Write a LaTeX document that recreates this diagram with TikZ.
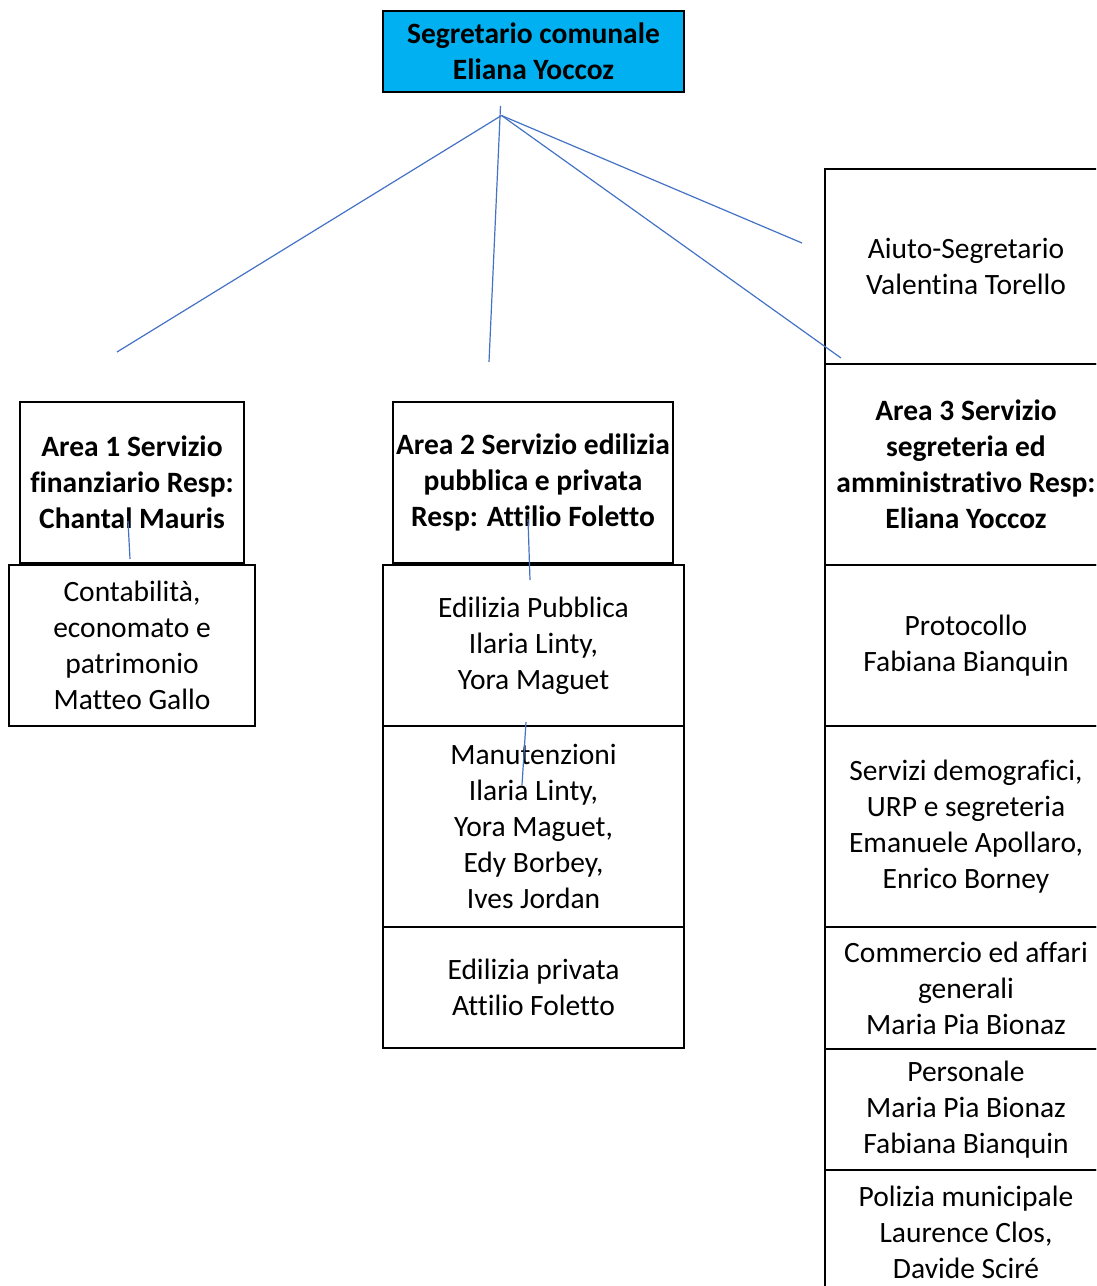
\documentclass[tikz,border=0pt]{standalone}
\usepackage{fontspec}
\setmainfont[Ligatures={NoCommon}]{Carlito}
\definecolor{topcyan}{HTML}{00B0F0}
\definecolor{linkblue}{HTML}{4472C4}
\begin{document}
\begin{tikzpicture}[x=1pt,y=-1pt,
  orgbox/.style={draw=black, line width=2pt, inner sep=0pt, align=center,
    font=\fontsize{29.5pt}{36pt}\selectfont},
  headbox/.style={orgbox, font=\fontsize{29.5pt}{36pt}\selectfont\bfseries},
  link/.style={draw=linkblue, line width=1.2pt}]
\clip (0,0) rectangle (1096,1286);
\fill[white] (0,0) rectangle (1096,1286);

% top
\node[headbox, fill=topcyan, minimum width=301pt, minimum height=81pt] (top) at (533.5,51.5) {Segretario comunale\\Eliana Yoccoz};

% area 1
\node[headbox, minimum width=224pt, minimum height=161pt] (a1) at (132,482.5) {Area 1 Servizio\\finanziario Resp:\\Chantal Mauris};
\node[orgbox, minimum width=246pt, minimum height=161pt] (c1) at (132,645.5) {Contabilità,\\economato e\\patrimonio\\Matteo Gallo};

% area 2
\node[headbox, minimum width=280pt, minimum height=161pt] (a2) at (533,482.5) {Area 2 Servizio edilizia\\pubblica e privata\\Resp: Attilio Foletto};
\node[orgbox, minimum width=301pt, minimum height=161pt] (e1) at (533.5,645.5) {Edilizia Pubblica\\Ilaria Linty,\\Yora Maguet};
\node[orgbox, minimum width=301pt, minimum height=201pt] (e2) at (533.5,826.5) {Manutenzioni\\Ilaria Linty,\\Yora Maguet,\\Edy Borbey,\\Ives Jordan};
\node[orgbox, minimum width=301pt, minimum height=121pt] (e3) at (533.5,987.5) {Edilizia privata\\Attilio Foletto};

% right column
\node[orgbox, minimum width=282pt, minimum height=195pt] (r1) at (966,266.5) {Aiuto-Segretario\\Valentina Torello};
\node[headbox, minimum width=282pt, minimum height=201pt] (r2) at (966,464.5) {Area 3 Servizio\\segreteria ed\\amministrativo Resp:\\Eliana Yoccoz};
\node[orgbox, minimum width=282pt, minimum height=161pt] (r3) at (966,645.5) {Protocollo\\Fabiana Bianquin};
\node[orgbox, minimum width=282pt, minimum height=201pt] (r4) at (966,826.5) {Servizi demografici,\\URP e segreteria\\Emanuele Apollaro,\\Enrico Borney};
\node[orgbox, minimum width=282pt, minimum height=122pt] (r5) at (966,988) {Commercio ed affari\\generali\\Maria Pia Bionaz};
\node[orgbox, minimum width=282pt, minimum height=121pt] (r6) at (966,1109.5) {Personale\\Maria Pia Bionaz\\Fabiana Bianquin};
\node[orgbox, minimum width=282pt, minimum height=124pt] (r7) at (966,1232) {Polizia municipale\\Laurence Clos,\\Davide Sciré};

% connector points
\coordinate (hub) at (501.5,115.5);
\coordinate (vtop) at (500.5,106);
\coordinate (toA1) at (117,352);
\coordinate (toA2) at (489,362);
\coordinate (toA3) at (841,358);
\coordinate (toR1) at (802,243);
\coordinate (s1a) at (128,521);
\coordinate (s1b) at (130,559);
\coordinate (s2a) at (528,519);
\coordinate (s2b) at (530,580);
\coordinate (s3a) at (526,722);
\coordinate (s3b) at (522,785);

\draw[link] (hub) -- (toA1);
\draw[link] (vtop) -- (toA2);
\draw[link] (hub) -- (toA3);
\draw[link] (hub) -- (toR1);
\draw[link] (s1a) -- (s1b);
\draw[link] (s2a) -- (s2b);
\draw[link] (s3a) -- (s3b);
\end{tikzpicture}
\end{document}
